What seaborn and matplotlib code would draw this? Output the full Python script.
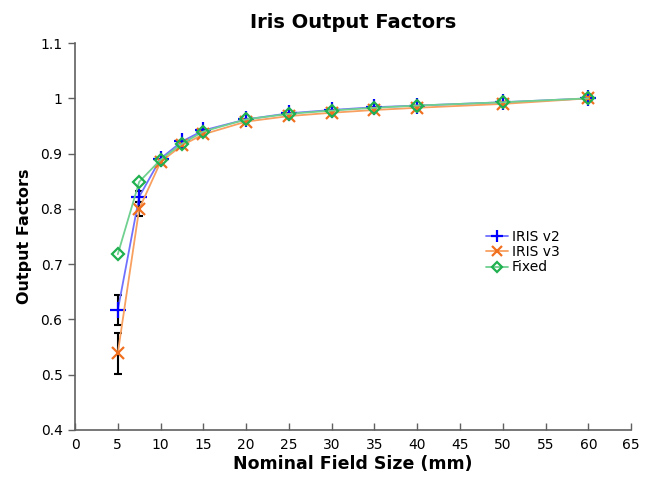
import numpy as np
import pandas as pd
import matplotlib
matplotlib.use('Agg')
import matplotlib.pyplot as plt
import seaborn as sns

field_size = [5, 7.5, 10, 12.5, 15, 20, 25, 30, 35, 40, 50, 60]
iris_v2 = [0.617, 0.822, 0.891, 0.922, 0.942, 0.962, 0.973, 0.979, 0.984, 0.987, 0.993, 1.0]
iris_v3 = [0.539, 0.800, 0.885, 0.915, 0.935, 0.958, 0.968, 0.974, 0.979, 0.983, 0.990, 1.0]
fixed = [0.718, 0.849, 0.889, 0.918, 0.940, 0.962, 0.972, 0.978, 0.983, 0.987, 0.993, 1.0]
v2_err = [0.027, 0.010, 0, 0, 0, 0, 0, 0, 0, 0, 0, 0]
v3_err = [0.037, 0.013, 0, 0, 0, 0, 0, 0, 0, 0, 0, 0]

series = {'IRIS v2': iris_v2, 'IRIS v3': iris_v3, 'Fixed': fixed}
df = pd.concat([pd.DataFrame({'size': field_size, 'of': v, 'name': k}) for k, v in series.items()])

sns.set_style('white')
plt.rcParams['font.family'] = ['DejaVu Sans']
plt.rcParams['text.color'] = 'black'
plt.rcParams['axes.labelcolor'] = 'black'
plt.rcParams['xtick.color'] = 'black'
plt.rcParams['ytick.color'] = 'black'

fig = plt.figure(figsize=(6.54, 4.79), dpi=100)
ax = fig.add_axes([0.1147, 0.1023, 0.8503, 0.8077])

styles = {'IRIS v2': ('#0000ff', '#7070ff', '+', 11),
          'IRIS v3': ('#f07020', '#f8a060', 'x', 9),
          'Fixed': ('#20b050', '#70d090', 'D', 6)}

for name, (mc, lc, mk, ms) in styles.items():
    d = df[df['name'] == name]
    sns.lineplot(data=d, x='size', y='of', ax=ax, color=lc, lw=1.3, label=name,
                 marker=mk, markersize=ms, markeredgecolor=mc,
                 markerfacecolor='none' if mk == 'D' else mc, markeredgewidth=1.6)

# error bars on the small fields
ax.errorbar(field_size[:2], iris_v2[:2], yerr=v2_err[:2], fmt='none', ecolor='black',
            elinewidth=1.5, capsize=3, capthick=1.5, zorder=1)
ax.errorbar(field_size[:2], iris_v3[:2], yerr=v3_err[:2], fmt='none', ecolor='black',
            elinewidth=1.5, capsize=3, capthick=1.5, zorder=1)

ax.set_xlim(0, 65)
ax.set_ylim(0.4, 1.1)
ax.set_xticks(range(0, 66, 5))
ax.set_yticks(np.arange(0.4, 1.11, 0.1))
ax.set_yticklabels(['0.4', '0.5', '0.6', '0.7', '0.8', '0.9', '1', '1.1'])
ax.tick_params(axis='y', left=True, direction='out', length=5, width=1, color='#606060',
               labelcolor='black', labelsize=10, pad=4)
ax.tick_params(axis='x', bottom=True, direction='in', length=5, width=1, color='#606060',
               labelcolor='black', labelsize=10, pad=6)
for s in ['top', 'right']:
    ax.spines[s].set_visible(False)
for s in ['left', 'bottom']:
    ax.spines[s].set_color('#606060')
    ax.spines[s].set_linewidth(1.2)

ax.set_xlabel('Nominal Field Size (mm)', fontsize=12.5, fontweight='bold', labelpad=2)
ax.set_ylabel('Output Factors', fontsize=11.5, fontweight='bold', labelpad=6)
ax.set_title('Iris Output Factors', fontsize=14, fontweight='bold', pad=11)

ax.legend(loc='center left', bbox_to_anchor=(0.726, 0.46), frameon=False, fontsize=10,
          handlelength=1.6, handletextpad=0.3, labelspacing=0.1, borderpad=0, markerscale=0.8)

fig.savefig('out.png', dpi=100)
